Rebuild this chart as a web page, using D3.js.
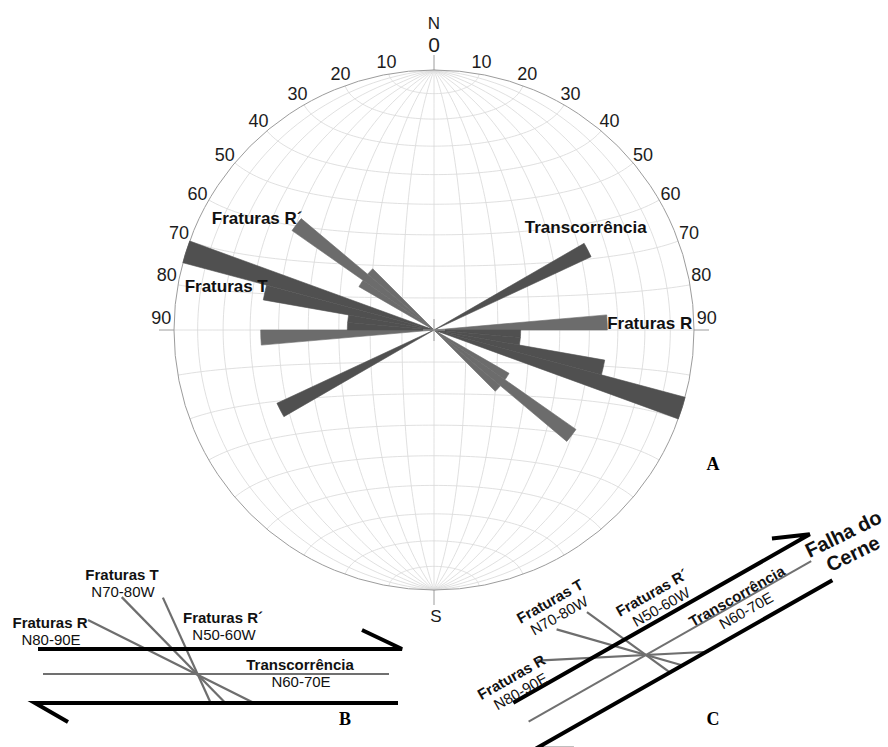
<!DOCTYPE html>
<html>
<head>
<meta charset="utf-8">
<script src="https://cdn.jsdelivr.net/npm/d3@7"></script>
<style>
  html, body { margin: 0; padding: 0; background: #fff; }
  svg { display: block; font-family: "Liberation Sans", Arial, Helvetica, sans-serif; }
</style>
</head>
<body>
<svg id="fig" width="888" height="747"></svg>
<script>
// ---------- data ----------
// rose diagram: 5° strike classes (azimuth of class start), counts, fracture family
const binStart  = [60, 85, 90, 95, 100, 105, 120, 125, 130];
const binCount  = [2, 2, 1, 1, 2, 3, 1, 2, 1];
const binFamily = ["transc", "R", "T", "T", "T", "T", "Rp", "Rp", "Rp"];
const binWidth  = 5;
const countMax  = 3;

// azimuth tick labels on the net
const tickValues = [10, 20, 30, 40, 50, 60, 70, 80, 90];

// fracture families for the kinematic sketches
const shearName   = "Transcorrência";
const shearStrike = "N60-70E";
const shearAz     = 60.4;
const fracName    = ["Fraturas R", "Fraturas T", "Fraturas R´"];
const fracStrike  = ["N80-90E", "N70-80W", "N50-60W"];
const fracAz      = [87, 286, 306];

// ---------- styles / layout ----------
const familyColor = { transc: "#505050", T: "#505050", R: "#6c6c6c", Rp: "#6c6c6c" };
const net = { cx: 434, cy: 330, r: 260 };

const svg = d3.select("#fig");
const rad = d => d * Math.PI / 180;
const polar = (az, r) => [net.cx + r * Math.sin(rad(az)), net.cy - r * Math.cos(rad(az))];

// ---------- equal-area (Schmidt) net ----------
const proj = d3.geoAzimuthalEqualArea()
  .rotate([0, 0])
  .scale(net.r / Math.SQRT2)
  .translate([net.cx, net.cy])
  .precision(0.1);
const geoPath = d3.geoPath(proj);

const gridStep = 10;
const gridLines = [];
for (let lon = -90 + gridStep; lon < 90; lon += gridStep) {
  gridLines.push({ type: "LineString", coordinates: d3.range(-90, 90.001, 2).map(lat => [lon, lat]) });
}
for (let lat = -90 + gridStep; lat < 90; lat += gridStep) {
  gridLines.push({ type: "LineString", coordinates: d3.range(-90, 90.001, 2).map(lon => [lon, lat]) });
}
svg.append("g").attr("class", "grid")
  .selectAll("path").data(gridLines).join("path")
  .attr("d", geoPath)
  .attr("fill", "none")
  .attr("stroke", "#d8d8d8")
  .attr("stroke-width", 0.8);

svg.append("circle")
  .attr("cx", net.cx).attr("cy", net.cy).attr("r", net.r)
  .attr("fill", "none").attr("stroke", "#9c9c9c").attr("stroke-width", 1);

// cardinal ticks
[0, 90, 180, 270].forEach(az => {
  const a = polar(az, net.r), b = polar(az, net.r + 15);
  svg.append("line").attr("x1", a[0]).attr("y1", a[1]).attr("x2", b[0]).attr("y2", b[1])
    .attr("stroke", "#9c9c9c").attr("stroke-width", 1);
});

// ---------- rose petals (bidirectional) ----------
const rScale = d3.scaleLinear().domain([0, countMax]).range([0, net.r]);
const arc = d3.arc().innerRadius(0);
const petals = [];
binStart.forEach((s, i) => {
  [0, 180].forEach(off => petals.push({ start: s + off, count: binCount[i], family: binFamily[i] }));
});
svg.append("g").attr("class", "rose")
  .attr("transform", `translate(${net.cx},${net.cy})`)
  .selectAll("path").data(petals).join("path")
  .attr("d", d => arc({ outerRadius: rScale(d.count), startAngle: rad(d.start), endAngle: rad(d.start + binWidth) }))
  .attr("fill", d => familyColor[d.family])
  .attr("stroke", d => familyColor[d.family])
  .attr("stroke-width", 0.6)
  .attr("stroke-linejoin", "miter");

// centre cross
svg.append("path")
  .attr("d", `M${net.cx - 11},${net.cy}H${net.cx + 11}M${net.cx},${net.cy - 11}V${net.cy + 11}`)
  .attr("stroke", "#a0a0a0").attr("stroke-width", 1);

// ---------- azimuth labels ----------
const labelAngle = v => v - Math.max(0, v - 60) * 0.09;
const tickG = svg.append("g").attr("font-size", 18).attr("fill", "#1c1c1c").attr("text-anchor", "middle");
tickValues.forEach(v => {
  [1, -1].forEach(side => {
    const p = polar(side * labelAngle(v), 273);
    tickG.append("text").attr("x", p[0]).attr("y", p[1]).attr("dy", "0.36em").text(v);
  });
});
tickG.append("text").attr("x", net.cx).attr("y", net.cy - net.r - 18).attr("font-size", 21).text("0");
tickG.append("text").attr("x", net.cx).attr("y", net.cy - net.r - 41).attr("font-size", 17).text("N");
tickG.append("text").attr("x", net.cx + 2).attr("y", net.cy + net.r + 32).attr("font-size", 17).text("S");

// ---------- family labels on the rose ----------
const roseLabels = [
  { text: "Fraturas R´",    bin: 305, count: 2, anchor: "end",    dx: 6,  dy: 0 },
  { text: "Transcorrência", bin: 60,  count: 2, anchor: "middle", dx: -2, dy: -17 },
  { text: "Fraturas T",     bin: 280, count: 2, anchor: "end",    dx: 3,  dy: 0 },
  { text: "Fraturas R",     bin: 85,  count: 2, anchor: "start",  dx: 0,  dy: 7 }
];
svg.append("g").attr("font-size", 17).attr("font-weight", "bold").attr("fill", "#111")
  .selectAll("text").data(roseLabels).join("text")
  .attr("x", d => polar(d.bin + binWidth / 2, rScale(d.count))[0] + d.dx)
  .attr("y", d => polar(d.bin + binWidth / 2, rScale(d.count))[1] + d.dy)
  .attr("text-anchor", d => d.anchor)
  .text(d => d.text);

svg.append("text").attr("x", 713).attr("y", 470)
  .attr("font-family", "'Liberation Serif', 'Times New Roman', serif")
  .attr("font-weight", "bold").attr("font-size", 18).attr("text-anchor", "middle").text("A");

// ---------- kinematic sketches ----------
const panels = [
  {
    id: "B", origin: [198, 675], rotate: 0,
    upperY: -26, upperX: [-160, 204], upperHead: [-40, -19],
    lowerY: 28, lowerX: [-163, 200], lowerHead: [33, 19],
    midY: -1, midX: [-155, 191],
    back: [123, 109, 85],
    fracLabels: [[-148, -47], [-76, -95], [25, -52]],
    shearLabel: [102, -5],
    letter: [345, 725]
  },
  {
    id: "C", origin: [646, 655], rotate: shearAz - 90,
    upperY: -24, upperX: [-139, 202], upperHead: [-35, -15],
    lowerY: 27, lowerX: [-142, 199], lowerHead: [33, 19],
    midY: 0, midX: [-135, 190],
    back: [109, 93, 73],
    fracLabels: [[-128, -42], [-57, -89], [36, -46]],
    shearLabel: [108, -1],
    letter: [713, 725],
    fault: { at: [231, -1], turn: 3.5, lines: ["Falha do", "Cerne"] }
  }
];

panels.forEach(cfg => {
  const g = svg.append("g")
    .attr("transform", `translate(${cfg.origin[0]},${cfg.origin[1]}) rotate(${cfg.rotate})`);

  // fracture traces, from their label to the lower wall of the zone
  fracAz.forEach((az, i) => {
    const d = rad((((az - shearAz) % 180) + 180) % 180);
    const ux = Math.cos(d), uy = Math.sin(d);
    const back = cfg.back[i], fwd = (cfg.lowerY + 1) / uy;
    g.append("line")
      .attr("x1", -back * ux).attr("y1", -back * uy)
      .attr("x2", fwd * ux).attr("y2", fwd * uy)
      .attr("stroke", "#6e6e6e").attr("stroke-width", 2.2);
  });

  // main shear trace
  g.append("line")
    .attr("x1", cfg.midX[0]).attr("y1", cfg.midY).attr("x2", cfg.midX[1]).attr("y2", cfg.midY)
    .attr("stroke", "#707070").attr("stroke-width", 2);

  // walls of the shear zone with half-arrows
  const wall = (x0, x1, y, head, atEnd) => {
    g.append("path")
      .attr("d", atEnd
        ? `M${x0},${y}H${x1}L${x1 + head[0]},${y + head[1]}`
        : `M${x0 + head[0]},${y + head[1]}L${x0},${y}H${x1}`)
      .attr("fill", "none").attr("stroke", "#000").attr("stroke-width", 4)
      .attr("stroke-linejoin", "miter");
  };
  wall(cfg.upperX[0], cfg.upperX[1], cfg.upperY, cfg.upperHead, true);
  wall(cfg.lowerX[0], cfg.lowerX[1], cfg.lowerY, cfg.lowerHead, false);

  // labels
  const lab = g.append("g").attr("fill", "#111").attr("text-anchor", "middle");
  const pair = (p, name, strike) => {
    lab.append("text").attr("x", p[0]).attr("y", p[1])
      .attr("font-size", 15).attr("font-weight", "bold").text(name);
    lab.append("text").attr("x", p[0] + 1).attr("y", p[1] + 17)
      .attr("font-size", 15).text(strike);
  };
  fracName.forEach((n, i) => pair(cfg.fracLabels[i], n, fracStrike[i]));
  pair(cfg.shearLabel, shearName, shearStrike);

  if (cfg.fault) {
    const f = g.append("text")
      .attr("transform", `translate(${cfg.fault.at[0]},${cfg.fault.at[1]}) rotate(${cfg.fault.turn})`)
      .attr("font-size", 20).attr("font-weight", "bold").attr("fill", "#111").attr("text-anchor", "middle");
    cfg.fault.lines.forEach((t, k) => f.append("tspan").attr("x", 0).attr("dy", k ? 22 : 0).text(t));
  }

  svg.append("text").attr("x", cfg.letter[0]).attr("y", cfg.letter[1])
    .attr("font-family", "'Liberation Serif', 'Times New Roman', serif")
    .attr("font-weight", "bold").attr("font-size", 18).attr("text-anchor", "middle").text(cfg.id);
});
</script>
</body>
</html>
